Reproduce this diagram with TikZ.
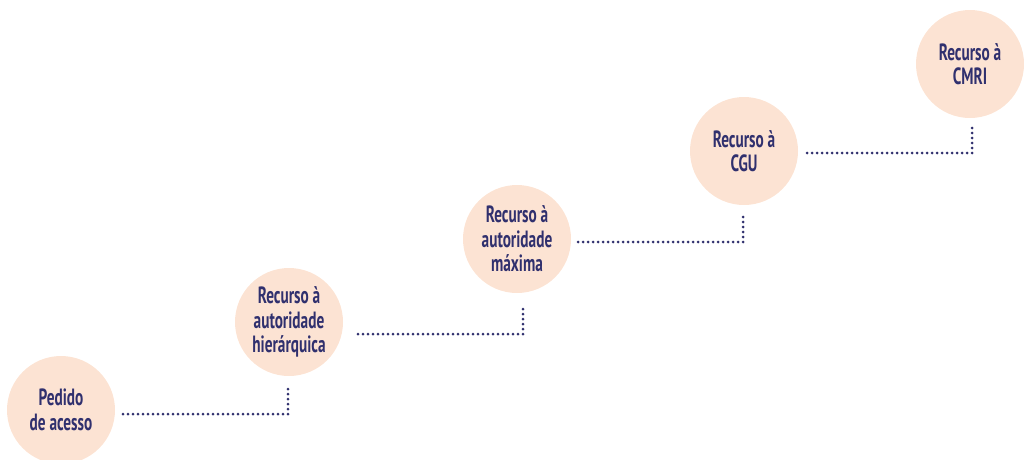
\documentclass[tikz,border=0pt]{standalone}
\usepackage{fontspec}
\setmainfont{PT Sans}[FakeStretch=0.65]
\definecolor{peach}{HTML}{FCE3D3}
\definecolor{navy}{HTML}{30306E}
\tikzset{
  stage/.style={circle, fill=peach, draw=none, minimum size=108pt, inner sep=0pt,
    text=navy, align=center, font=\fontsize{23.5}{24.5}\selectfont\bfseries},
  dotline/.style={draw=navy, line width=3pt, line cap=round, dash pattern=on 0pt off 5pt}
}
\begin{document}
\begin{tikzpicture}[x=1pt,y=-1pt]
\useasboundingbox (0,0) rectangle (1024,459);
\node[stage] (c1) at (61,410) {Pedido\\de acesso};
\node[stage] (c2) at (289,322) {Recurso à\\autoridade\\hierárquica};
\node[stage] (c3) at (517,239) {Recurso à\\autoridade\\máxima};
\node[stage] (c4) at (744,151) {Recurso à\\CGU};
\node[stage] (c5) at (970,64) {Recurso à\\CMRI};
\coordinate (s1) at (123,414); \coordinate (e1) at (288,388);
\coordinate (s2) at (358,334); \coordinate (e2) at (523,308);
\coordinate (s3) at (578,242); \coordinate (e3) at (743,217);
\coordinate (s4) at (807,153); \coordinate (e4) at (972,127);
\draw[dotline] (s1) -| (e1);
\draw[dotline] (s2) -| (e2);
\draw[dotline] (s3) -| (e3);
\draw[dotline] (s4) -| (e4);
\end{tikzpicture}
\end{document}
